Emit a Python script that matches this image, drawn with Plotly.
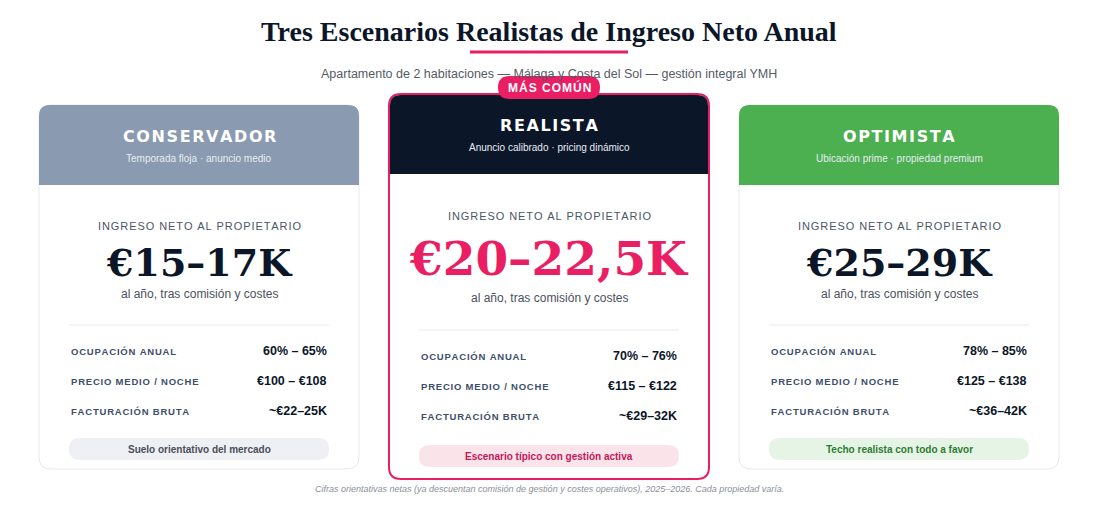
import plotly.graph_objects as go

scenarios = ["CONSERVADOR", "REALISTA", "OPTIMISTA"]
subtitles = ["Temporada floja · anuncio medio", "Anuncio calibrado · pricing dinámico", "Ubicación prime · propiedad premium"]
net_income = ["€15–17K", "€20–22,5K", "€25–29K"]
occupancy = ["60% – 65%", "70% – 76%", "78% – 85%"]
nightly_price = ["€100 – €108", "€115 – €122", "€125 – €138"]
gross_revenue = ["~€22–25K", "~€29–32K", "~€36–42K"]
notes = ["Suelo orientativo del mercado", "Escenario típico con gestión activa", "Techo realista con todo a favor"]
row_labels = ["OCUPACIÓN ANUAL", "PRECIO MEDIO / NOCHE", "FACTURACIÓN BRUTA"]

header_colors = ["#8a9ab1", "#0b1629", "#4caf50"]
num_colors = ["#0b1629", "#e91e63", "#0b1629"]
pill_fill = ["#eef0f4", "#fbe3ea", "#e6f4e6"]
pill_text = ["#4a4f5a", "#c2185b", "#2e7d32"]

def sp(s):
    return "\u200a".join(s)

def rrect(x0, y0, x1, y1, r, top=True, bottom=True):
    rt = r if top else 0
    rb = r if bottom else 0
    return (f"M{x0+rt},{y0} L{x1-rt},{y0} Q{x1},{y0} {x1},{y0+rt} "
            f"L{x1},{y1-rb} Q{x1},{y1} {x1-rb},{y1} L{x0+rb},{y1} Q{x0},{y1} {x0},{y1-rb} "
            f"L{x0},{y0+rt} Q{x0},{y0} {x0+rt},{y0} Z")

fig = go.Figure()
shapes, ann = [], []

def text(x, y, t, size, color, family="Arial", xanchor="center", bold=False, italic=False):
    if bold: t = f"<b>{t}</b>"
    if italic: t = f"<i>{t}</i>"
    ann.append(dict(x=x, y=y, text=t, showarrow=False, xanchor=xanchor, yanchor="middle",
                    font=dict(size=size, color=color, family=family), xref="x", yref="y"))

text(549, 31, "Tres Escenarios Realistas de Ingreso Neto Anual", 28, "#0b1629", "Liberation Serif", bold=True)
shapes.append(dict(type="line", x0=470, x1=628, y0=52, y1=52, line=dict(color="#e91e63", width=3)))
text(549, 74, "Apartamento de 2 habitaciones — Málaga y Costa del Sol — gestión integral YMH", 12.5, "#555b66")

for i in range(3):
    x0 = 39 + 350 * i
    x1 = x0 + 320
    mid = (x0 + x1) / 2
    feat = i == 1
    top = 94 if feat else 105
    bot = 479 if feat else 469
    hb = top + 80
    y_ing = 216 if feat else 226
    y_num = 258 if feat else 262
    y_al = 298 if feat else 294
    y_div = 330 if feat else 325
    y_row = 356 if feat else 351
    py = 456 if feat else 449
    shapes.append(dict(type="path", path=rrect(x0, top, x1, bot, 12), fillcolor="white",
                       line=dict(color="#e91e63" if feat else "#e6e8ec", width=2 if feat else 1), layer="below"))
    o = 1 if feat else 0
    shapes.append(dict(type="path", path=rrect(x0 + o, top + o, x1 - o, hb, 11, bottom=False),
                       fillcolor=header_colors[i], line=dict(width=0), layer="below"))
    text(mid, top + 31, sp(scenarios[i]), 16, "white", "DejaVu Sans", bold=True)
    text(mid, top + 53, subtitles[i], 10, "#e8ecf2")
    text(mid, y_ing, sp("INGRESO NETO AL PROPIETARIO"), 11, "#4a5568")
    text(mid, y_num, net_income[i], 47 if feat else 38, num_colors[i], "DejaVu Serif", bold=True)
    text(mid, y_al, "al año, tras comisión y costes", 12, "#4a5060")
    shapes.append(dict(type="line", x0=x0 + 30, x1=x1 - 30, y0=y_div, y1=y_div, line=dict(color="#eef0f3", width=1.5)))
    vals = [occupancy[i], nightly_price[i], gross_revenue[i]]
    for k in range(3):
        y = y_row + 30 * k
        text(x0 + 30, y, sp(row_labels[k]), 9.5, "#3d4f6b", xanchor="left", bold=True)
        text(x1 - 30, y, vals[k], 12.5, "#0b1629", xanchor="right", bold=True)
    shapes.append(dict(type="path", path=rrect(x0 + 30, py - 11, x1 - 30, py + 11, 11), fillcolor=pill_fill[i], line=dict(width=0)))
    text(mid, py, notes[i], 10, pill_text[i], bold=True)

shapes.append(dict(type="path", path=rrect(498, 76, 600, 99, 11.5), fillcolor="#e91e63", line=dict(width=0)))
text(549, 87.5, sp("MÁS COMÚN"), 12, "white", bold=True)

text(549, 489, "Cifras orientativas netas (ya descuentan comisión de gestión y costes operativos), 2025–2026. Cada propiedad varía.", 9, "#8a8f99", italic=True)

# page body has an 8px margin: shift the coordinate window to compensate
fig.update_layout(width=1097, height=520, margin=dict(l=0, r=0, t=0, b=0),
                  paper_bgcolor="white", plot_bgcolor="white", shapes=shapes, annotations=ann,
                  xaxis=dict(range=[8, 1105], visible=False, fixedrange=True),
                  yaxis=dict(range=[528, 8], visible=False, fixedrange=True), showlegend=False)
fig.write_html("out.html", config={"displayModeBar": False})
